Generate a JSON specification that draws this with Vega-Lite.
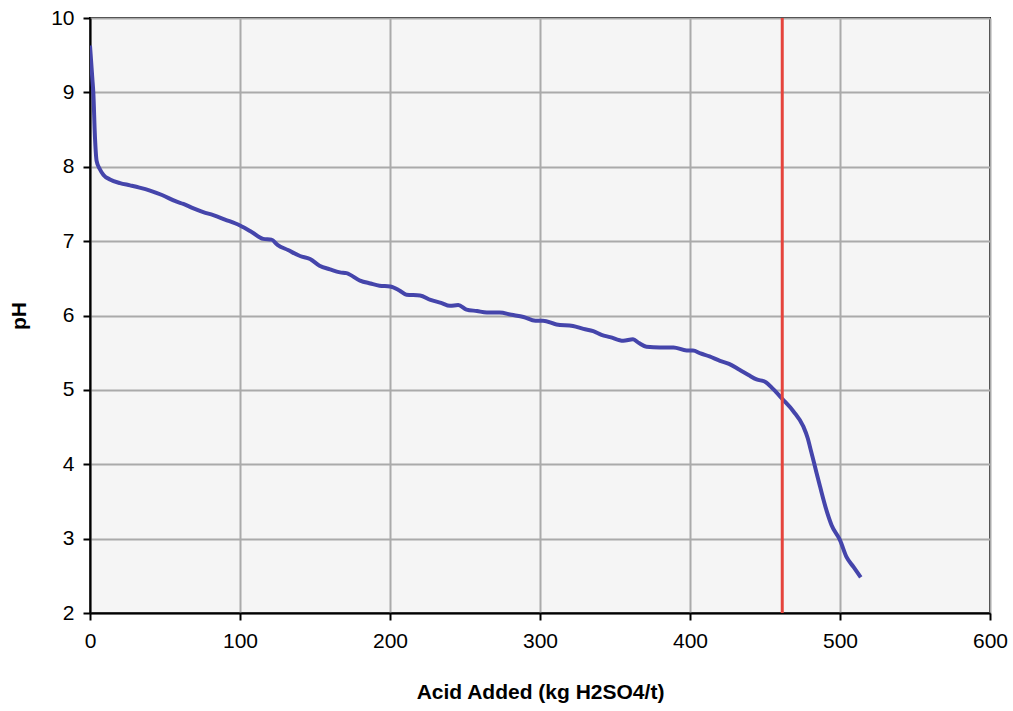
{
  "$schema": "https://vega.github.io/schema/vega-lite/v6.json",
  "autosize": "none",
  "width": 900,
  "height": 595,
  "padding": {"left": 90, "top": 18, "right": 23, "bottom": 98},
  "background": "white",
  "config": {
    "font": "Liberation Sans",
    "view": {"fill": "#f5f5f5", "stroke": "black", "strokeWidth": 2},
    "axis": {
      "labelFont": "Liberation Sans",
      "titleFont": "Liberation Sans",
      "labelFontSize": 21,
      "titleFontSize": 21,
      "labelColor": "black",
      "titleColor": "black",
      "domainColor": "black",
      "domainWidth": 2,
      "tickColor": "black",
      "tickWidth": 2,
      "tickSize": 7,
      "gridColor": "#aaaaaa",
      "gridWidth": 2,
      "gridOpacity": 1,
      "labelFlush": false,
      "titleFontWeight": "bold"
    }
  },
  "datasets": {
    "curve": [
      {"acid": 0, "pH": 9.63},
      {"acid": 1.5, "pH": 9.2},
      {"acid": 2.2, "pH": 9.0},
      {"acid": 3.3, "pH": 8.4},
      {"acid": 4.4, "pH": 8.08},
      {"acid": 6.5, "pH": 7.97},
      {"acid": 9, "pH": 7.89},
      {"acid": 13.3, "pH": 7.83},
      {"acid": 20, "pH": 7.78},
      {"acid": 26.7, "pH": 7.75},
      {"acid": 33, "pH": 7.72},
      {"acid": 40, "pH": 7.68},
      {"acid": 48, "pH": 7.62},
      {"acid": 57.8, "pH": 7.53},
      {"acid": 62.2, "pH": 7.5},
      {"acid": 69, "pH": 7.44},
      {"acid": 75.5, "pH": 7.39},
      {"acid": 82.2, "pH": 7.35},
      {"acid": 90, "pH": 7.29},
      {"acid": 100, "pH": 7.21},
      {"acid": 108, "pH": 7.12},
      {"acid": 115.5, "pH": 7.03},
      {"acid": 121, "pH": 7.02},
      {"acid": 125, "pH": 6.95},
      {"acid": 132, "pH": 6.88},
      {"acid": 140, "pH": 6.8},
      {"acid": 146.7, "pH": 6.76},
      {"acid": 153, "pH": 6.67},
      {"acid": 160, "pH": 6.62},
      {"acid": 166.7, "pH": 6.58},
      {"acid": 171, "pH": 6.57},
      {"acid": 180, "pH": 6.47},
      {"acid": 187, "pH": 6.43},
      {"acid": 193, "pH": 6.4},
      {"acid": 200, "pH": 6.39},
      {"acid": 206, "pH": 6.34},
      {"acid": 211, "pH": 6.28},
      {"acid": 220, "pH": 6.27},
      {"acid": 227, "pH": 6.21},
      {"acid": 234, "pH": 6.17},
      {"acid": 240, "pH": 6.13},
      {"acid": 245.5, "pH": 6.14},
      {"acid": 251, "pH": 6.08},
      {"acid": 258, "pH": 6.06},
      {"acid": 264.5, "pH": 6.04},
      {"acid": 273, "pH": 6.04},
      {"acid": 281, "pH": 6.01},
      {"acid": 289, "pH": 5.98},
      {"acid": 297, "pH": 5.93},
      {"acid": 302, "pH": 5.93},
      {"acid": 311, "pH": 5.88},
      {"acid": 322, "pH": 5.86},
      {"acid": 329, "pH": 5.82},
      {"acid": 335.5, "pH": 5.79},
      {"acid": 341, "pH": 5.74},
      {"acid": 346.7, "pH": 5.71},
      {"acid": 355.5, "pH": 5.66},
      {"acid": 362, "pH": 5.68},
      {"acid": 366, "pH": 5.63},
      {"acid": 371, "pH": 5.58},
      {"acid": 380, "pH": 5.57},
      {"acid": 389, "pH": 5.57},
      {"acid": 397.8, "pH": 5.53},
      {"acid": 402, "pH": 5.53},
      {"acid": 407, "pH": 5.49},
      {"acid": 413, "pH": 5.45},
      {"acid": 420, "pH": 5.39},
      {"acid": 426, "pH": 5.35},
      {"acid": 433, "pH": 5.27},
      {"acid": 439, "pH": 5.2},
      {"acid": 444.4, "pH": 5.14},
      {"acid": 450, "pH": 5.11},
      {"acid": 455.5, "pH": 5.01},
      {"acid": 461.5, "pH": 4.88},
      {"acid": 469, "pH": 4.71},
      {"acid": 475.5, "pH": 4.51},
      {"acid": 478.5, "pH": 4.35},
      {"acid": 480.4, "pH": 4.2},
      {"acid": 483.3, "pH": 3.97},
      {"acid": 486.7, "pH": 3.7},
      {"acid": 491, "pH": 3.38},
      {"acid": 494.4, "pH": 3.18},
      {"acid": 500, "pH": 2.98},
      {"acid": 504.4, "pH": 2.75},
      {"acid": 509, "pH": 2.62},
      {"acid": 513.8, "pH": 2.48}
    ],
    "marker": [{"acid": 461.5}]
  },
  "layer": [
    {
      "data": {"name": "curve"},
      "mark": {"type": "line", "color": "#4545ab", "strokeWidth": 4, "interpolate": "monotone", "clip": true},
      "encoding": {
        "x": {
          "field": "acid", "type": "quantitative",
          "scale": {"domain": [0, 600], "nice": false, "zero": false},
          "axis": {"values": [0, 100, 200, 300, 400, 500, 600], "title": "Acid Added (kg H2SO4/t)", "titlePadding": 30, "labelPadding": 10}
        },
        "y": {
          "field": "pH", "type": "quantitative",
          "scale": {"domain": [2, 10], "nice": false, "zero": false},
          "axis": {"values": [2, 3, 4, 5, 6, 7, 8, 9, 10], "title": "pH", "titlePadding": 21, "labelPadding": 9}
        }
      }
    },
    {
      "data": {"name": "marker"},
      "mark": {"type": "rule", "color": "#e5443c", "strokeWidth": 3},
      "encoding": {
        "x": {"field": "acid", "type": "quantitative"}
      }
    }
  ]
}
